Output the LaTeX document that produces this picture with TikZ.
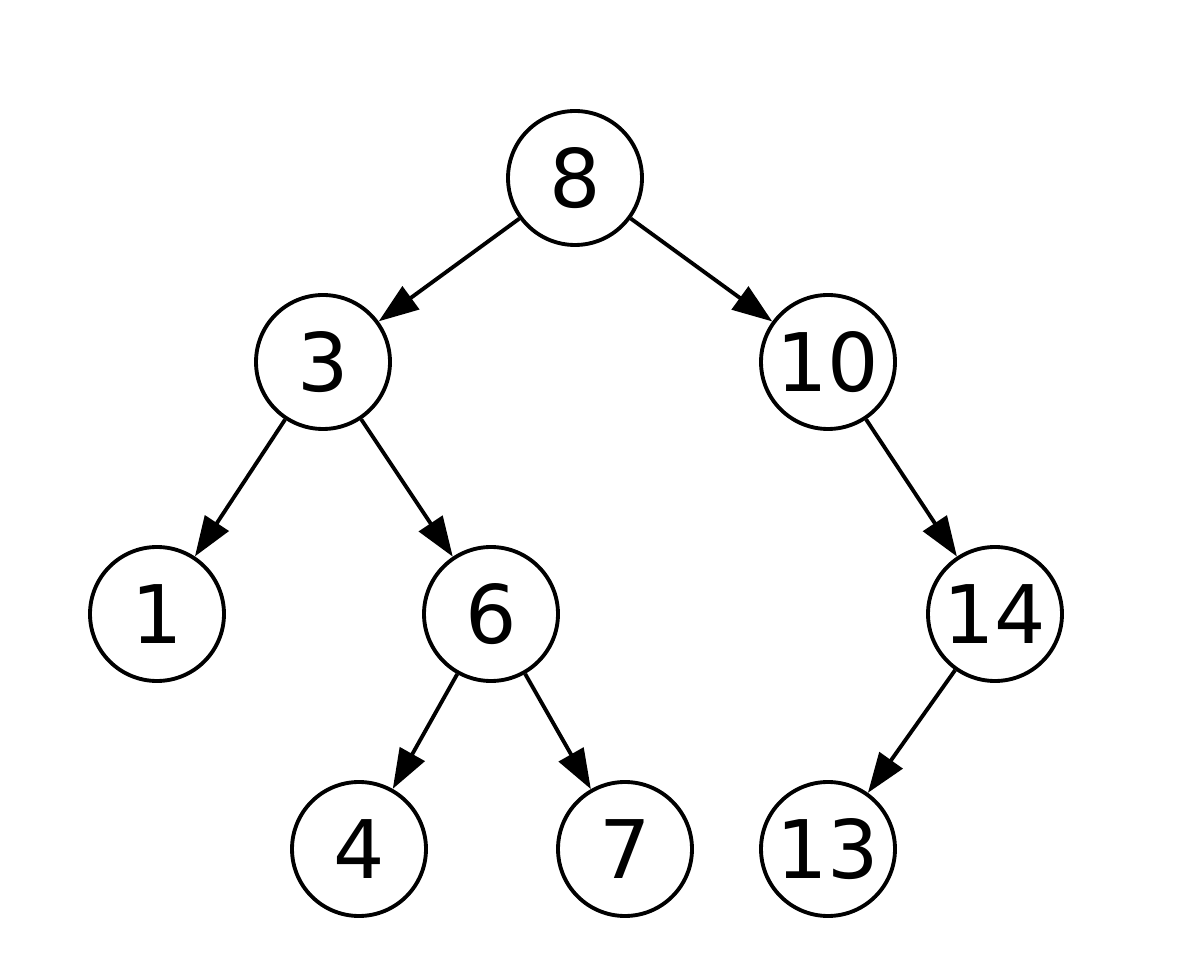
\documentclass[tikz,border=0pt]{standalone}
\usepackage{fontspec}
\setmainfont{DejaVu Sans}
\usetikzlibrary{arrows.meta}
\tikzset{font=\fontsize{23}{27}\selectfont}

\begin{document}
\begin{tikzpicture}[x=1cm,y=-1cm]
	\useasboundingbox (0,0) rectangle (11.98,9.68);
	\begin{scope}
		\tikzstyle{every node}=[draw, circle, line width=1.1pt, minimum size=1.34cm, inner sep=0pt]
		\tikzstyle{edge}=[line width=1.1pt, -{Triangle[length=4mm,width=2.8mm]}]
		\node (n8) at (5.75, 1.78) {8};
		\node (n3) at (3.23, 3.62) {3};
		\node (n10) at (8.28, 3.62) {10};
		\node (n1) at (1.57, 6.14) {1};
		\node (n6) at (4.91, 6.14) {6};
		\node (n14) at (9.95, 6.14) {14};
		\node (n4) at (3.59, 8.49) {4};
		\node (n7) at (6.25, 8.49) {7};
		\node (n13) at (8.28, 8.49) {13};

		\draw[edge] (n8) -- (n3);
		\draw[edge] (n8) -- (n10);
		\draw[edge] (n3) -- (n1);
		\draw[edge] (n3) -- (n6);
		\draw[edge] (n10) -- (n14);
		\draw[edge] (n6) -- (n4);
		\draw[edge] (n6) -- (n7);
		\draw[edge] (n14) -- (n13);

	\end{scope}
\end{tikzpicture}
\end{document}
